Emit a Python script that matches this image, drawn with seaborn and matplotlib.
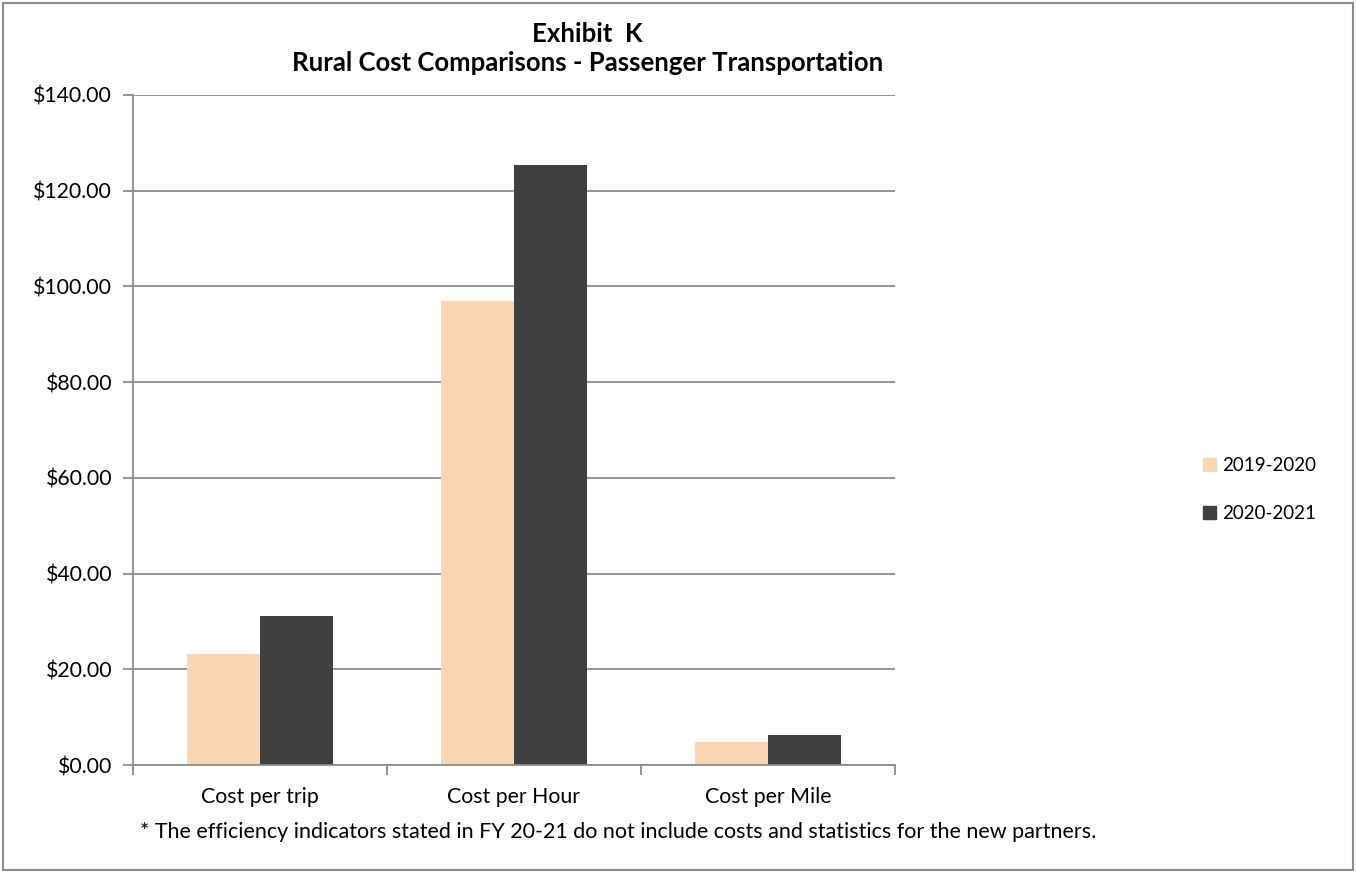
import matplotlib
matplotlib.use("Agg")
import matplotlib.pyplot as plt
import matplotlib.patches as mpatches
from matplotlib.ticker import FuncFormatter, FixedLocator
import pandas as pd
import seaborn as sns

categories = ["Cost per trip", "Cost per Hour", "Cost per Mile"]
years = ["2019-2020", "2020-2021"]
fy1920 = [23.1, 97.0, 4.8]
fy2021 = [31.2, 125.4, 6.3]
colors = ["#FCD5B4", "#404040"]

df = pd.DataFrame({
    "category": categories * 2,
    "year": [years[0]] * 3 + [years[1]] * 3,
    "cost": fy1920 + fy2021,
})

sns.set_theme(style="white")
plt.rcParams["font.family"] = ["Lato", "DejaVu Sans"]
plt.rcParams["text.color"] = "black"
plt.rcParams["xtick.labelcolor"] = "black"
plt.rcParams["ytick.labelcolor"] = "black"

fig = plt.figure(figsize=(13.56, 8.73), dpi=100)
ax = fig.add_axes([0.0981, 0.1237, 0.5619, 0.7675])

sns.barplot(data=df, x="category", y="cost", hue="year", palette=colors,
            width=0.575, gap=0, saturation=1, linewidth=0, ax=ax, legend=False)

ax.set_ylim(0, 140)
ax.set_xlim(-0.5, 2.5)
ax.yaxis.set_major_locator(FixedLocator(range(0, 141, 20)))
ax.yaxis.set_major_formatter(FuncFormatter(lambda v, p: f"${v:.2f}"))
ax.grid(axis="y", color="#8c8c8c", lw=1.3)
ax.set_axisbelow(True)
for s in ["top", "right"]:
    ax.spines[s].set_visible(False)
for s in ["left", "bottom"]:
    ax.spines[s].set_color("#8c8c8c")
    ax.spines[s].set_linewidth(1.3)
ax.set_xlabel("")
ax.set_ylabel("")
ax.tick_params(axis="y", length=7, color="#8c8c8c", width=1.3, labelsize=15.3, left=True, pad=8)
ax.tick_params(axis="x", which="major", length=0, labelsize=15.3, pad=16)
ax.set_xticks([-0.5, 0.5, 1.5, 2.5], minor=True)
ax.tick_params(axis="x", which="minor", length=7, color="#8c8c8c", width=1.3, bottom=True)

fig.text(0.433, 0.961, "Exhibit  K", ha="center", va="center", fontsize=18.5, fontweight="bold")
fig.text(0.433, 0.928, "Rural Cost Comparisons - Passenger Transportation",
         ha="center", va="center", fontsize=18.5, fontweight="bold")
fig.text(0.103, 0.047,
         "* The efficiency indicators stated in FY 20-21 do not include costs and statistics for the new partners.",
         ha="left", va="center", fontsize=15.5)

handles = [mpatches.Patch(color=c, label=y) for c, y in zip(colors, years)]
fig.legend(handles=handles, loc="center left", bbox_to_anchor=(0.875, 0.439),
           frameon=False, fontsize=13.5, handlelength=0.65, handleheight=0.65,
           handletextpad=0.35, labelspacing=1.65)

fig.patches.append(mpatches.Rectangle((0.002, 0.003), 0.996, 0.994, transform=fig.transFigure,
                                      fill=False, edgecolor="#8c8c8c", lw=1.5))

fig.savefig("out.png", dpi=100)
